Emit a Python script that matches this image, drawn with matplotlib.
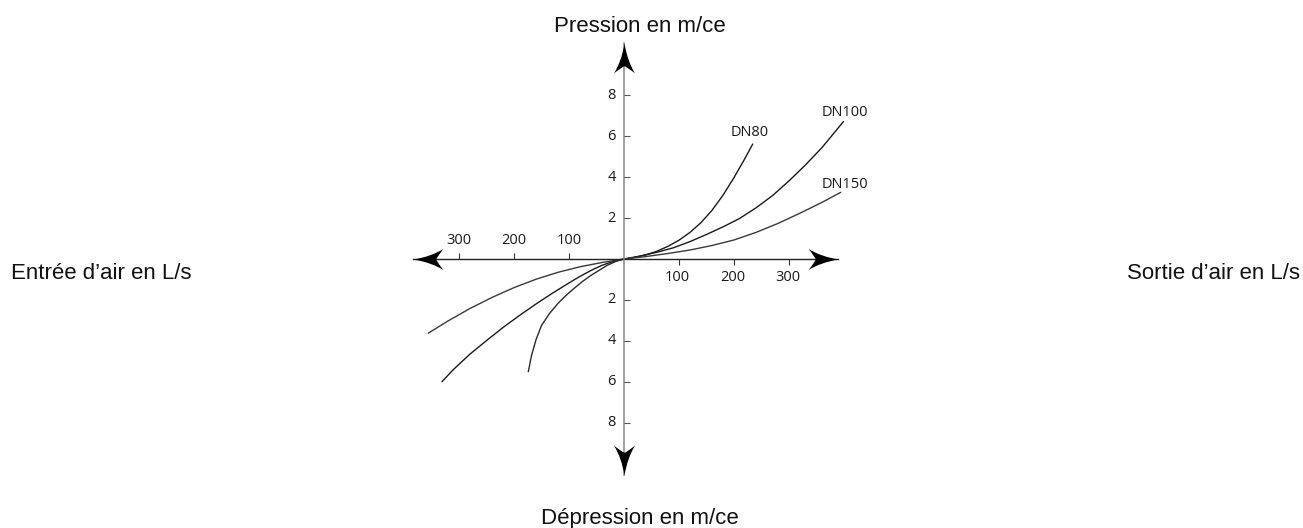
#Pressure / depression curves of air valves (DN80, DN100, DN150) drawn on a cross shaped pair of axes.

import numpy as np
from matplotlib import pyplot as plt
from matplotlib.path import Path


#Curve points, flow in L/s and pressure in m/ce.
#Right side: air leaving (pressure, plotted upwards).
dn80_out_x = [0, 20, 40, 60, 80, 100, 120, 140, 160, 180, 200, 220, 234]
dn80_out_y = [0, 0.08, 0.2, 0.38, 0.62, 0.92, 1.3, 1.78, 2.38, 3.12, 3.98, 4.92, 5.62]

dn100_out_x = [0, 30, 60, 90, 120, 150, 180, 210, 240, 270, 300, 330, 360, 399]
dn100_out_y = [0, 0.15, 0.33, 0.55, 0.85, 1.2, 1.57, 1.98, 2.5, 3.1, 3.82, 4.6, 5.45, 6.72]

dn150_out_x = [0, 40, 80, 120, 160, 200, 240, 280, 320, 360, 394]
dn150_out_y = [0, 0.12, 0.27, 0.44, 0.66, 0.93, 1.3, 1.74, 2.24, 2.77, 3.26]

#Left side: air entering (depression, plotted downwards).
dn80_in_x = [0, -15, -30, -45, -60, -75, -90, -105, -120, -135, -150, -160, -168, -174]
dn80_in_y = [0, -0.12, -0.3, -0.55, -0.8, -1.09, -1.42, -1.77, -2.17, -2.65, -3.25, -3.95, -4.7, -5.51]

dn100_in_x = [0, -20, -40, -60, -80, -100, -130, -160, -190, -220, -250, -280, -310, -331]
dn100_in_y = [0, -0.12, -0.31, -0.56, -0.85, -1.17, -1.67, -2.2, -2.76, -3.35, -3.99, -4.65, -5.4, -6.0]

dn150_in_x = [0, -40, -80, -120, -160, -200, -240, -280, -320, -356]
dn150_in_y = [0, -0.17, -0.38, -0.65, -0.99, -1.4, -1.88, -2.42, -3.03, -3.63]

#Tick values and their labels.
x_ticks_left = [-300, -200, -100]
x_ticks_right = [100, 200, 300]
y_ticks = [-8, -6, -4, -2, 2, 4, 6, 8]

#Curve names and where their labels sit.
curve_names = ['DN80', 'DN100', 'DN150']
name_x = [229, 360, 360]
name_y = [6.18, 7.14, 3.62]
name_ha = ['center', 'left', 'left']


def arrow_marker(angle):

    #Concave arrow head with its tip at the origin, pointing up, then rotated.
    verts = np.array([(0, 0), (0.1, -0.6), (0.35, -1.0), (0.1, -0.8), (0, -0.76),
                      (-0.1, -0.8), (-0.35, -1.0), (-0.1, -0.6), (0, 0), (0, 0)])
    codes = [Path.MOVETO, Path.CURVE3, Path.CURVE3, Path.CURVE3, Path.CURVE3,
             Path.CURVE3, Path.CURVE3, Path.CURVE3, Path.CURVE3, Path.CLOSEPOLY]
    a = np.radians(angle)
    rot = np.array([[np.cos(a), -np.sin(a)], [np.sin(a), np.cos(a)]])
    return Path(verts @ rot.T, codes)


fig = plt.figure(figsize=(13.03, 5.28), dpi=100)

#Axes placed so that the origin sits at pixel (624, 259).
ax = fig.add_axes([400/1303, 38/528, 450/1303, 460/528])
ax.set_xlim(-224/0.55, 226/0.55)
ax.set_ylim(-231/20.45, 229/20.45)
ax.axis('off')


#Axis lines with their arrow heads.
ax.plot([-383, 389], [0, 0], color='#222222', lw=1.0, zorder=2)
ax.plot([0, 0], [-10.55, 10.55], color='#888888', lw=1.1, zorder=2)

ax.plot([389], [0], marker=arrow_marker(-90), ms=43, color='black', mew=0, zorder=3)
ax.plot([-383], [0], marker=arrow_marker(90), ms=43, color='black', mew=0, zorder=3)
ax.plot([0], [10.55], marker=arrow_marker(0), ms=43, color='black', mew=0, zorder=3)
ax.plot([0], [-10.55], marker=arrow_marker(180), ms=43, color='black', mew=0, zorder=3)


tick_font = dict(fontsize=10.5, family='Open Sans', color='#1a1a1a')

#Ticks on the flow axis: up on the left side, down on the right side.
ax.plot(x_ticks_left, [0]*3, ls='none', marker=2, ms=4.5, mew=0.8, color='#333333')
ax.plot(x_ticks_right, [0]*3, ls='none', marker=3, ms=4.5, mew=0.8, color='#333333')
for v in x_ticks_left:
    ax.annotate(str(abs(v)), (v, 0), xytext=(0, 13), textcoords='offset points',
                ha='center', va='center', **tick_font)
for v in x_ticks_right:
    ax.annotate(str(abs(v)), (v, 0), xytext=(-1, -13), textcoords='offset points',
                ha='center', va='center', **tick_font)

#Ticks on the pressure axis, pointing right, labels on the left.
ax.plot([0]*len(y_ticks), y_ticks, ls='none', marker=1, ms=4.5, mew=0.8, color='#555555')
for v in y_ticks:
    ax.annotate(str(abs(v)), (0, v), xytext=(-6, 0), textcoords='offset points',
                ha='right', va='center', **tick_font)


#The six curves.
for cx, cy, c in [(dn80_out_x, dn80_out_y, '#1a1a1a'),
                  (dn100_out_x, dn100_out_y, '#1a1a1a'),
                  (dn150_out_x, dn150_out_y, '#3a3a3a'),
                  (dn80_in_x, dn80_in_y, '#2a2a2a'),
                  (dn100_in_x, dn100_in_y, '#1a1a1a'),
                  (dn150_in_x, dn150_in_y, '#3a3a3a')]:
    ax.plot(cx, cy, color=c, lw=1.0, solid_capstyle='round', solid_joinstyle='round', zorder=1)

for name, x, y, ha in zip(curve_names, name_x, name_y, name_ha):
    ax.text(x, y, name, ha=ha, va='center', **tick_font)


#Axis titles around the cross.
label_font = dict(fontsize=16, family='Liberation Sans', color='#111111', va='baseline')
fig.text(639.5/1303, 1 - 31.7/528, 'Pression en m/ce', ha='center', **label_font)
fig.text(639.5/1303, 1 - 524/528, 'Dépression en m/ce', ha='center', **label_font)
fig.text(10.7/1303, 1 - 279/528, 'Entrée d’air en L/s', ha='left', **label_font)
fig.text(1300/1303, 1 - 279/528, 'Sortie d’air en L/s', ha='right', **label_font)


fig.savefig('out.png', dpi=100)
